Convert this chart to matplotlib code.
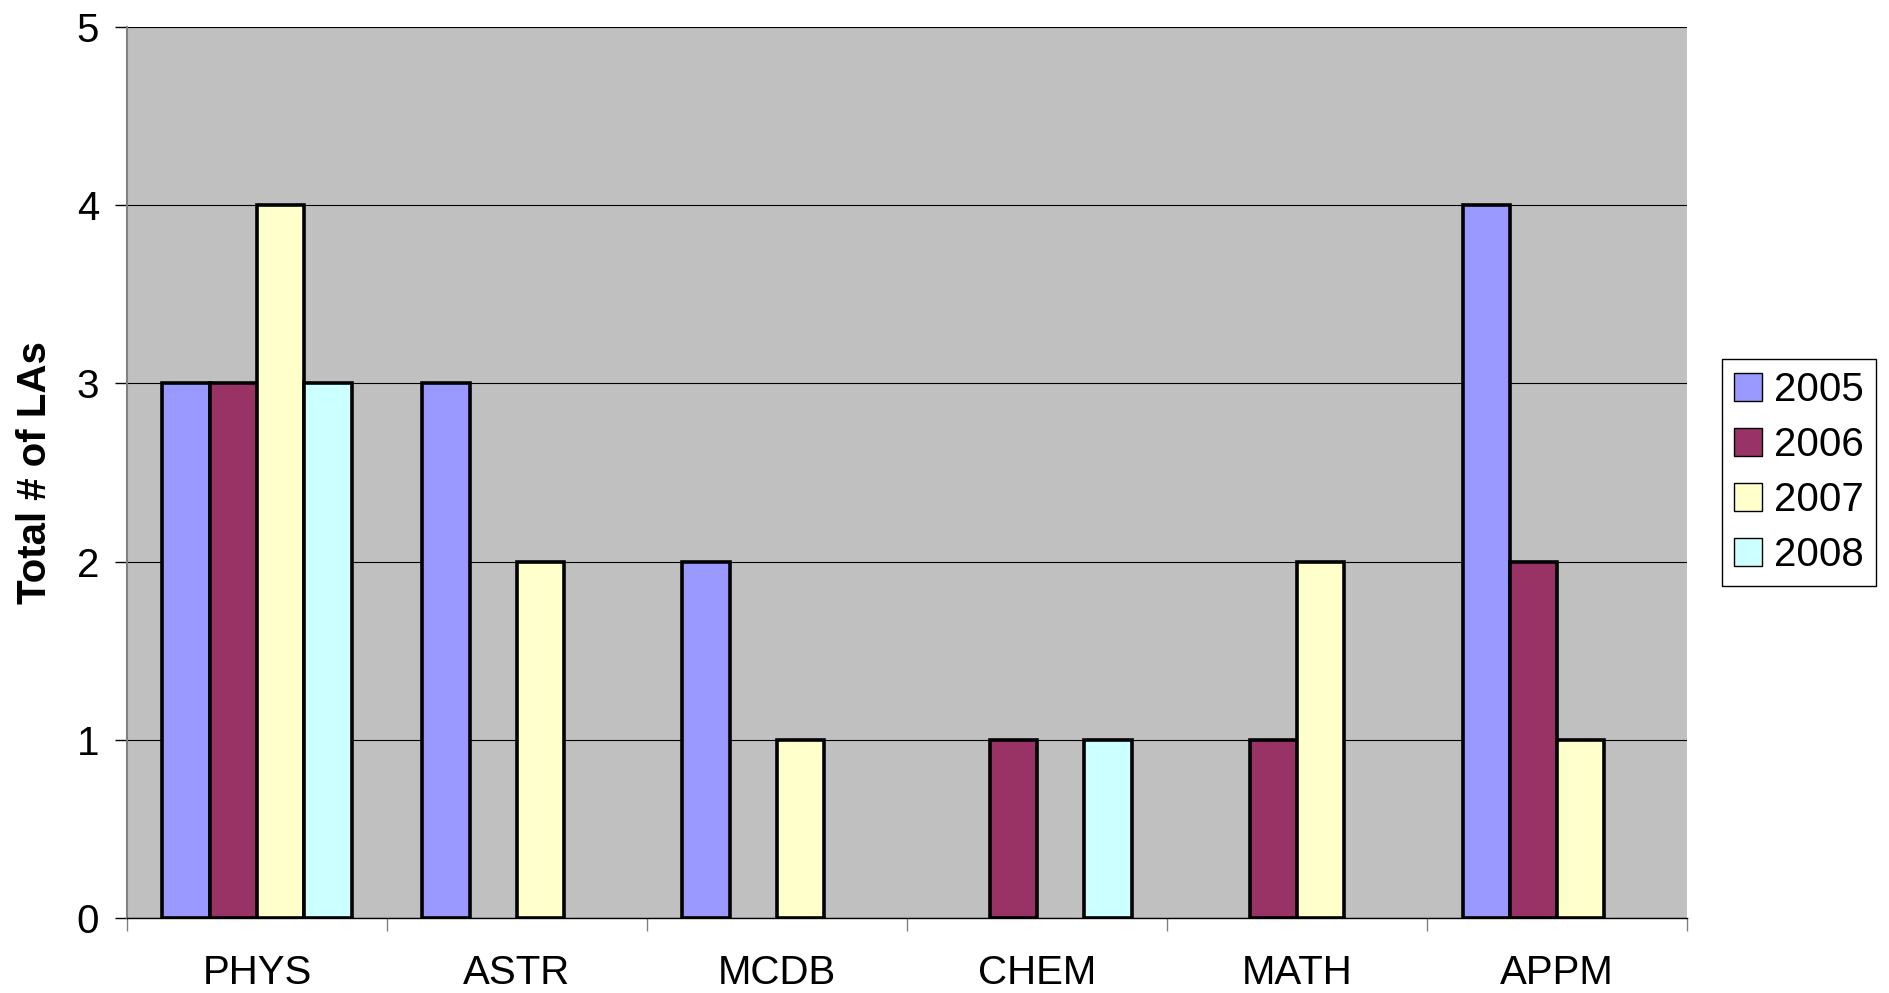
import numpy as np
import matplotlib
matplotlib.use('Agg')
import matplotlib.pyplot as plt

departments = ['PHYS', 'ASTR', 'MCDB', 'CHEM', 'MATH', 'APPM']
years = ['2005', '2006', '2007', '2008']
las_2005 = [3, 3, 2, 0, 0, 4]
las_2006 = [3, 0, 0, 1, 1, 2]
las_2007 = [4, 2, 1, 0, 2, 1]
las_2008 = [3, 0, 0, 1, 0, 0]

colors = ['#9999FF', '#993366', '#FFFFCC', '#CCFFFF']

plt.rcParams['font.family'] = ['Liberation Sans', 'DejaVu Sans']
FS = 29

fig = plt.figure(figsize=(18.89, 9.93), dpi=100)
ax = fig.add_axes([0.0672, 0.0755, 0.8259, 0.8973])
ax.set_facecolor('#C0C0C0')

x = np.arange(len(departments))
width = 1 / 5.5
series = [las_2005, las_2006, las_2007, las_2008]
for i, (vals, col, yr) in enumerate(zip(series, colors, years)):
    bars = ax.bar(x + (i - 1.5) * width, vals, width, color=col, edgecolor='black',
                  linewidth=2.6, label=yr, zorder=3)
    # empty categories leave no outline on the axis
    for b, v in zip(bars, vals):
        if v == 0:
            b.set_visible(False)

ax.set_xlim(-0.5, len(departments) - 0.5)
ax.set_ylim(0, 5)
ax.set_yticks(range(6))
ax.yaxis.grid(True, color='black', linewidth=0.8, zorder=1)
ax.set_axisbelow(True)

ax.set_xticks(x)
ax.set_xticklabels(departments, fontsize=FS)
ax.set_xticks(np.arange(-0.5, len(departments)), minor=True)
ax.tick_params(axis='x', which='major', length=0, pad=26)
ax.tick_params(axis='x', which='minor', length=9, width=1, color='#808080')
ax.tick_params(axis='y', labelsize=FS, length=9, width=1, color='black', pad=11)

for side in ['top', 'right']:
    ax.spines[side].set_visible(False)
ax.spines['left'].set_color('#808080')
ax.spines['left'].set_linewidth(1.5)
ax.spines['bottom'].set_color('black')
ax.spines['bottom'].set_linewidth(1)

ax.set_ylabel('Total # of LAs', fontsize=FS, fontweight='bold')
ax.yaxis.set_label_coords(-0.047, 0.5)

leg = ax.legend(loc='center left', bbox_to_anchor=(1.0225, 0.5), fontsize=FS,
                handlelength=0.69, handleheight=0.69, handletextpad=0.3,
                labelspacing=0.42, borderpad=0.3, borderaxespad=0,
                fancybox=False, framealpha=1)
leg.get_frame().set_edgecolor('black')
leg.get_frame().set_linewidth(1)
for h in leg.legend_handles:
    h.set_linewidth(1)

fig.savefig('out.png', dpi=100)
